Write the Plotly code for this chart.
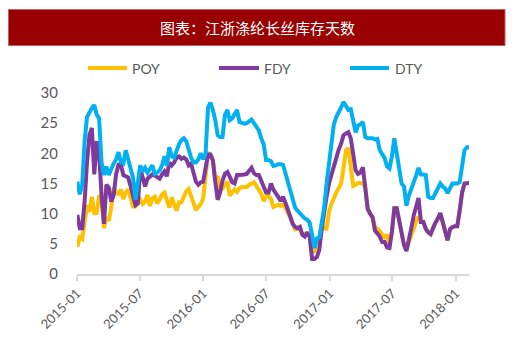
import pandas as pd
import plotly.graph_objects as go

# ---- data (weekly) ----
start_date = "2015-01-02"
poy = [4.5, 6.1, 5.8, 9.2, 11.4, 10.3, 12.8, 10.1, 10.1, 13.0,
       12.6, 7.6, 9.4, 8.8, 11.0, 14.3, 13.5, 13.3, 14.0, 12.4,
       13.5, 14.0, 12.6, 11.2, 11.2, 11.8, 12.3, 11.6, 12.0, 13.1,
       11.3, 12.5, 12.8, 11.7, 12.3, 13.2, 13.5, 12.2, 11.0, 12.7,
       11.5, 10.5, 11.9, 11.9, 12.8, 13.7, 14.1, 13.0, 11.8, 10.6,
       11.1, 11.6, 12.5, 16.0, 20.0, 19.8, 19.0, 15.8, 16.2, 14.0,
       14.2, 14.8, 15.3, 13.0, 13.5, 14.0, 13.6, 14.2, 14.4, 14.4,
       14.4, 14.8, 15.1, 15.2, 14.6, 14.0, 13.3, 12.1, 12.8, 13.0,
       12.4, 11.1, 11.3, 11.5, 11.3, 11.5, 11.0, 10.2, 9.3, 8.5,
       7.4, 7.5, 7.4, 6.6, 6.7, 6.8, 6.2, 5.0, 3.8, 4.0,
       5.5, 8.4, 7.5, 7.5, 10.3, 11.6, 12.7, 13.5, 14.2, 15.0,
       17.6, 20.5, 20.9, 17.8, 14.6, 14.8, 15.1, 15.1, 15.0, 14.3,
       10.8, 10.0, 9.4, 7.8, 7.5, 7.1, 6.5, 6.1, 6.5, 5.0,
       7.0, 10.9, 10.9, 9.0, 6.5, 4.8, 4.0, 5.5, 6.5, 7.5,
       8.8, 9.5, 8.6, 8.6, 7.5, 6.9, 6.6, 7.8, 8.5, 9.2,
       10.0, 8.6, 7.0, 5.6, 7.4, 7.8, 7.9, 7.9, 10.5, 13.5,
       15.0, 15.1, 15.1]

fdy = [9.8, 7.6, 7.6, 12.0, 18.5, 23.0, 24.2, 16.5, 22.0, 20.0,
       13.0, 8.3, 14.8, 14.3, 12.0, 13.0, 16.5, 18.1, 18.1, 16.4,
       16.2, 16.0, 14.6, 12.8, 11.4, 11.7, 17.5, 16.0, 14.5, 15.8,
       16.2, 16.5, 16.3, 16.0, 15.8, 16.5, 17.0, 16.2, 18.5, 18.0,
       18.5, 19.3, 19.5, 19.1, 19.3, 19.0, 18.0, 18.3, 17.0, 15.3,
       14.8, 15.2, 15.3, 18.0, 19.8, 19.8, 18.8, 15.3, 12.3, 13.5,
       15.5, 16.6, 16.9, 16.1, 15.2, 15.0, 16.4, 16.4, 16.4, 16.5,
       16.6, 17.2, 17.6, 16.7, 16.4, 16.4, 15.5, 14.3, 13.5, 13.5,
       15.0, 14.0, 13.5, 12.8, 12.1, 12.8, 11.8, 10.8, 9.5, 8.3,
       7.8, 7.6, 7.8, 6.5, 6.2, 6.9, 6.2, 2.5, 2.5, 2.8,
       4.0, 7.5, 10.5, 12.8, 15.0, 16.4, 17.9, 19.5, 20.6, 21.6,
       23.0, 23.3, 23.5, 22.5, 20.0, 17.2, 16.6, 16.8, 17.7, 14.3,
       10.8, 10.0, 9.4, 7.2, 6.7, 6.2, 5.3, 5.3, 4.4, 4.3,
       7.0, 10.9, 10.9, 9.0, 6.5, 4.8, 3.8, 5.5, 7.6, 9.7,
       11.2, 12.6, 8.6, 8.6, 7.5, 6.9, 6.6, 7.8, 8.5, 9.2,
       10.1, 8.6, 7.0, 5.6, 7.4, 7.8, 7.9, 7.9, 10.5, 13.5,
       15.0, 15.1, 15.1]

dty = [15.3, 13.2, 14.8, 22.0, 26.0, 26.8, 27.5, 28.0, 26.4, 25.8,
       18.5, 16.4, 17.8, 16.4, 17.5, 18.3, 19.0, 20.2, 18.5, 18.3,
       20.5, 19.0, 17.6, 16.0, 12.3, 15.0, 18.0, 17.0, 17.6, 16.8,
       17.3, 18.0, 16.6, 16.8, 17.2, 18.0, 19.5, 18.0, 21.0, 19.5,
       19.3, 20.5, 21.5, 22.2, 22.5, 22.0, 20.5, 19.3, 18.5, 18.5,
       19.0, 20.0, 19.0, 20.0, 27.5, 28.4, 27.2, 25.5, 23.0, 22.7,
       22.7, 26.4, 27.2, 25.5, 25.8, 26.5, 27.2, 25.2, 25.0, 24.9,
       25.0, 25.3, 25.6, 25.0, 24.4, 23.8, 22.5, 21.5, 18.9, 18.9,
       18.7, 17.9, 18.0, 18.2, 18.2, 18.1, 16.7, 15.4, 14.0, 12.6,
       11.0, 10.5, 10.0, 9.5, 9.2, 9.0, 8.5, 6.5, 4.3, 5.9,
       6.1, 8.5, 11.0, 15.0, 18.5, 22.0, 24.8, 26.0, 27.0, 27.6,
       28.5, 27.8, 27.2, 27.3, 25.3, 23.5, 24.6, 24.8, 25.2, 22.7,
       22.5, 22.5, 22.5, 22.3, 22.4, 20.5, 19.8, 19.2, 17.8, 17.5,
       19.5, 22.5, 20.0, 17.0, 15.0, 14.5, 11.3, 13.0, 14.0, 15.0,
       16.3, 17.6, 16.5, 16.5, 16.4, 12.8, 12.6, 12.6, 13.5, 14.3,
       15.0, 14.5, 14.2, 13.4, 14.2, 15.0, 15.0, 15.0, 15.2, 17.5,
       20.5, 21.0, 21.0]

series_names = ["POY", "FDY", "DTY"]
series_colors = ["#FFC000", "#7F3A9E", "#00B0F0"]
tick_dates = ["2015-01-01", "2015-07-01", "2016-01-01", "2016-07-01",
              "2017-01-01", "2017-07-01", "2018-01-01"]
tick_labels = ["2015-01", "2015-07", "2016-01", "2016-07",
               "2017-01", "2017-07", "2018-01"]
title_text = "图表：江浙涤纶长丝库存天数"

dates = pd.date_range(start_date, periods=len(dty), freq="7D")

FONT = "Lato, 'Liberation Sans', sans-serif"
GRAY = "#595959"

fig = go.Figure()
for name, vals, col in zip(series_names, [poy, fdy, dty], series_colors):
    fig.add_trace(go.Scatter(x=dates, y=vals, name=name, mode="lines",
                             line=dict(color=col, width=4, shape="linear"),
                             showlegend=False))

# plot area in pixels: left 77, right 469, top 93, bottom 274
W, H = 520, 349
L, R, T, B = 77, 469, 93, 274
pw, ph = R - L, B - T


def px(x):
    return (x - L) / pw


def py(y):
    return (B - y) / ph


shapes = [dict(type="rect", xref="paper", yref="paper",
               x0=px(8.5), x1=px(505), y0=py(45.5), y1=py(9.5),
               fillcolor="#990000", line=dict(color="#C06060", width=1),
               layer="above")]
annotations = [dict(text=title_text, xref="paper", yref="paper",
                    x=px(257), y=py(27.5), xanchor="center", yanchor="middle",
                    showarrow=False,
                    font=dict(family="'Noto Sans CJK SC'", size=15, color="white"))]

legend_pos = [(88, 127, 130), (219, 259, 262), (350, 389, 393)]
for (x0, x1, xt), name, col in zip(legend_pos, series_names, series_colors):
    shapes.append(dict(type="line", xref="paper", yref="paper",
                       x0=px(x0), x1=px(x1), y0=py(68), y1=py(68),
                       line=dict(color=col, width=4)))
    annotations.append(dict(text=name, xref="paper", yref="paper",
                            x=px(xt), y=py(68.5), xanchor="left", yanchor="middle",
                            showarrow=False,
                            font=dict(family=FONT, size=14, color=GRAY)))

fig.update_layout(
    width=W, height=H,
    margin=dict(l=L, r=W - R, t=T, b=H - B, pad=0),
    paper_bgcolor="white", plot_bgcolor="white",
    shapes=shapes, annotations=annotations,
    font=dict(family=FONT, color=GRAY),
)
fig.update_xaxes(
    type="date", range=["2015-01-01", "2018-02-08"],
    tickmode="array", tickvals=tick_dates, ticktext=tick_labels,
    tickangle=-45, tickfont=dict(size=13, color=GRAY, family=FONT),
    showline=True, linecolor="#D9D9D9", linewidth=1.5,
    ticks="outside", ticklen=5, tickcolor="#D9D9D9", tickwidth=1.5,
    showgrid=False, zeroline=False,
)
fig.update_yaxes(
    range=[0, 30], tickmode="linear", tick0=0, dtick=5,
    tickfont=dict(size=15, color=GRAY, family=FONT),
    showgrid=False, zeroline=False, showline=False,
    ticks="", ticklabelstandoff=18,
)

fig.write_html("out.html")
